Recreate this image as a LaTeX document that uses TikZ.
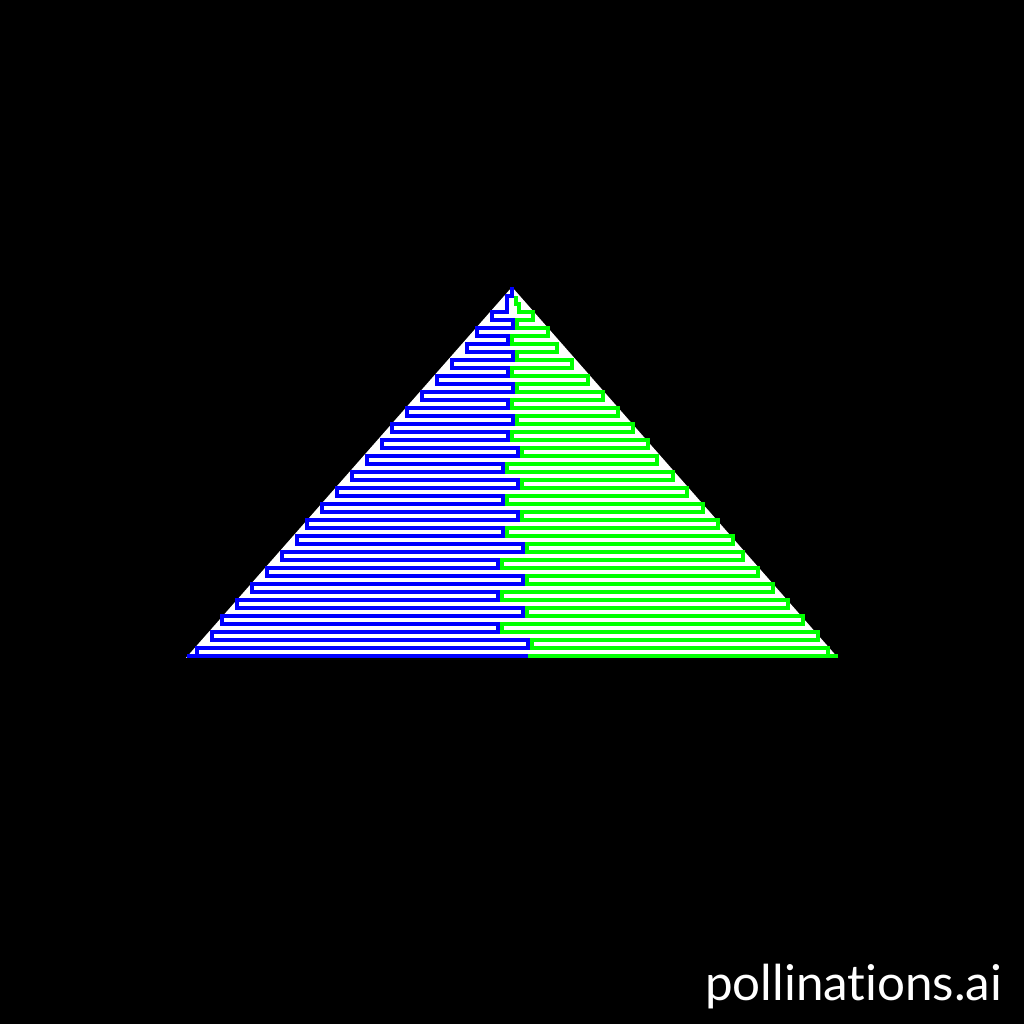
\documentclass[tikz,border=0pt]{standalone}
\usepackage{fontspec}
\usepackage{graphicx}
\newfontfamily\markfont[Ligatures=NoCommon]{Lato}
\definecolor{pathblue}{RGB}{0,0,255}
\definecolor{pathgreen}{RGB}{0,255,0}
\tikzset{
  bluepath/.style={draw=pathblue,line width=3.5pt,line join=miter},
  greenpath/.style={draw=pathgreen,line width=3.5pt,line join=miter},
}
\begin{document}
\begin{tikzpicture}[x=1pt,y=-1pt]
\useasboundingbox (0,0) rectangle (1024,1024);
\fill[black] (0,0) rectangle (1024,1024);
% triangle
\fill[white] (512,287) -- (186,657.8) -- (838,657.8) -- cycle;
% blue serpentine
\draw[bluepath] (512,287) -- (512,296) -- (507,296) -- (507,312) -- (492,312) -- (492,320)
 -- (513,320) -- (513,328) -- (477,328) -- (477,336) -- (508,336) -- (508,344)
 -- (467,344) -- (467,352) -- (513,352) -- (513,360) -- (452,360) -- (452,368)
 -- (508,368) -- (508,376) -- (437,376) -- (437,384) -- (513,384) -- (513,392)
 -- (422,392) -- (422,400) -- (508,400) -- (508,408) -- (407,408) -- (407,416)
 -- (513,416) -- (513,424) -- (392,424) -- (392,432) -- (508,432) -- (508,440)
 -- (382,440) -- (382,448) -- (518,448) -- (518,456) -- (367,456) -- (367,464)
 -- (503,464) -- (503,472) -- (352,472) -- (352,480) -- (518,480) -- (518,488)
 -- (337,488) -- (337,496) -- (503,496) -- (503,504) -- (322,504) -- (322,512)
 -- (518,512) -- (518,520) -- (307,520) -- (307,528) -- (503,528) -- (503,536)
 -- (297,536) -- (297,544) -- (523,544) -- (523,552) -- (282,552) -- (282,560)
 -- (498,560) -- (498,568) -- (267,568) -- (267,576) -- (523,576) -- (523,584)
 -- (252,584) -- (252,592) -- (498,592) -- (498,600) -- (237,600) -- (237,608)
 -- (523,608) -- (523,616) -- (222,616) -- (222,624) -- (498,624) -- (498,632)
 -- (212,632) -- (212,640) -- (528,640) -- (528,648) -- (197,648) -- (197,656);
\draw[bluepath] (187,656) -- (528,656);
% green serpentine
\draw[greenpath] (516,296) -- (516,304) -- (519,304) -- (519,312) -- (533,312) -- (533,320)
 -- (517,320) -- (517,328) -- (548,328) -- (548,336) -- (512,336) -- (512,344)
 -- (557,344) -- (557,352) -- (517,352) -- (517,360) -- (572,360) -- (572,368)
 -- (512,368) -- (512,376) -- (588,376) -- (588,384) -- (517,384) -- (517,392)
 -- (603,392) -- (603,400) -- (512,400) -- (512,408) -- (618,408) -- (618,416)
 -- (517,416) -- (517,424) -- (633,424) -- (633,432) -- (512,432) -- (512,440)
 -- (648,440) -- (648,448) -- (522,448) -- (522,456) -- (657,456) -- (657,464)
 -- (507,464) -- (507,472) -- (673,472) -- (673,480) -- (522,480) -- (522,488)
 -- (687,488) -- (687,496) -- (507,496) -- (507,504) -- (703,504) -- (703,512)
 -- (522,512) -- (522,520) -- (718,520) -- (718,528) -- (507,528) -- (507,536)
 -- (733,536) -- (733,544) -- (527,544) -- (527,552) -- (743,552) -- (743,560)
 -- (502,560) -- (502,568) -- (758,568) -- (758,576) -- (527,576) -- (527,584)
 -- (773,584) -- (773,592) -- (502,592) -- (502,600) -- (788,600) -- (788,608)
 -- (527,608) -- (527,616) -- (803,616) -- (803,624) -- (502,624) -- (502,632)
 -- (818,632) -- (818,640) -- (532,640) -- (532,648) -- (828,648) -- (828,656);
\draw[greenpath] (528,656) -- (838,656);
% watermark
\node[anchor=base west,inner sep=0pt,text=white] (mark) at (705,1000)
  {\resizebox{297pt}{!}{\markfont pollinations.ai}};
\end{tikzpicture}
\end{document}
